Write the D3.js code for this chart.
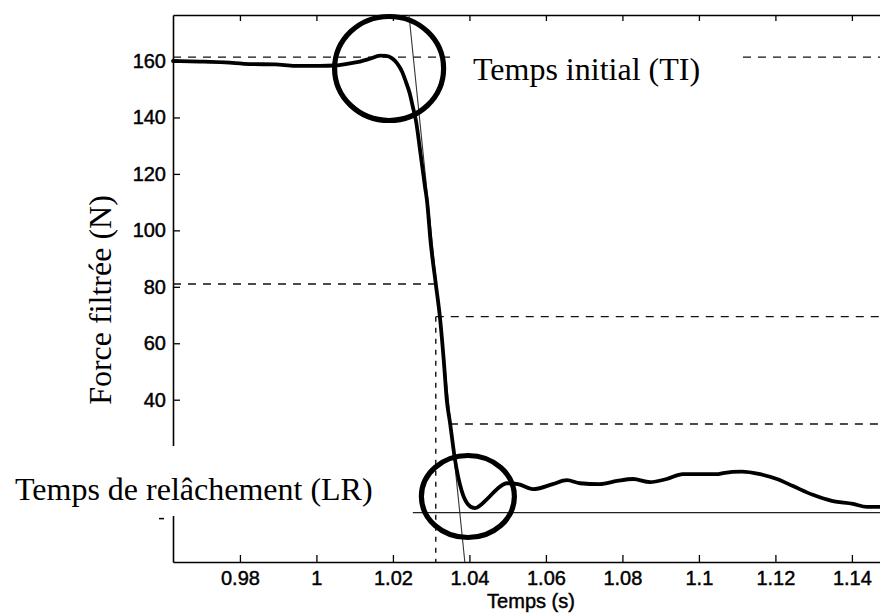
<!DOCTYPE html>
<html>
<head>
<meta charset="utf-8">
<script src="https://cdn.jsdelivr.net/npm/d3@7"></script>
<style>
  html, body { margin: 0; padding: 0; background: #fff; overflow: hidden; }
  svg { display: block; }
</style>
</head>
<body>
<svg id="chart" width="880" height="615"></svg>
<script>
// Filtered force signal around the release of the grip (time in s, force in N)
const time = [
  0.9625, 0.9695, 0.9761, 0.9826, 0.9892, 0.9944, 1.0009, 1.0048, 1.0088, 1.0114,
  1.0140, 1.0166, 1.0182, 1.0197, 1.0211, 1.0224, 1.0234, 1.0244, 1.0252, 1.0260,
  1.0271, 1.0284, 1.0289, 1.0299, 1.0312, 1.0323, 1.0333, 1.0341, 1.0349, 1.0362,
  1.0380, 1.0396, 1.0414, 1.0446, 1.0472, 1.0498, 1.0527, 1.0566, 1.0618, 1.0655,
  1.0689, 1.0741, 1.0786, 1.0828, 1.0872, 1.0916, 1.0958, 1.1047, 1.1063, 1.1112,
  1.1160, 1.1204, 1.1246, 1.1298, 1.1350, 1.1403, 1.1439, 1.1497
];
const force = [
  160.0, 159.8, 159.5, 158.9, 158.8, 158.3, 158.3, 158.4, 159.2, 159.8,
  160.8, 161.9, 161.8, 161.0, 159.2, 156.2, 152.6, 148.5, 143.8, 139.0,
  128.4, 115.3, 110.6, 95.3, 81.1, 69.1, 53.8, 39.6, 32.1, 19.0,
  7.6, 3.0, 1.6, 4.8, 8.3, 10.4, 10.1, 8.3, 10.1, 11.5,
  10.4, 10.1, 11.2, 11.9, 10.8, 11.9, 13.6, 13.6, 14.0, 14.5,
  13.6, 11.9, 9.4, 6.3, 4.1, 3.1, 2.0, 2.0
];

// Axis ticks (the 0 and 20 labels sit under the LR caption)
const xTicks = [0.98, 1.00, 1.02, 1.04, 1.06, 1.08, 1.10, 1.12, 1.14];
const yTicks = [0, 20, 40, 60, 80, 100, 120, 140, 160];
const yTickLabels = ["", "", "40", "60", "80", "100", "120", "140", "160"];

// Reference levels and times used to read TI and LR
const levelTI = [161.4];          // initial level, full width
const levelHalf = [81.0];         // level up to the crossing time
const levelsAfter = [69.4, 31.4]; // levels drawn from the curve onwards
const levelsAfterStart = [1.0312, 1.0349];
const levelZero = [0];
const levelZeroStart = [1.0252];
const crossTime = [1.0312];
const tangentTime = [1.0242, 1.0388];
const tangentForce = [176.3, -17.5];

// Circled events: centre in data units
const markTime = [1.0190, 1.0396];
const markForce = [157.35, 5.7];
const markLabels = ["Temps initial (TI)", "Temps de relâchement (LR)"];

const svg = d3.select("#chart");
const plotLeft = 173, plotRight = 889, plotTop = 15, plotBottom = 562;

const x = d3.scaleLinear().domain([0.9625, 1.1497]).range([plotLeft, plotRight]);
const y = d3.scaleLinear().domain([-17.5, 176.3]).range([plotBottom, plotTop]);

const SERIF = "'Liberation Serif', 'Times New Roman', serif";
const SANS = "'Liberation Sans', Arial, Helvetica, sans-serif";

// --- axes (MATLAB-like box with inward ticks) ---
const gx = svg.append("g").attr("transform", `translate(0,${plotBottom})`)
  .call(d3.axisBottom(x).tickValues(xTicks).tickSizeInner(-7).tickSizeOuter(0).tickPadding(8.8)
    .tickFormat(d => String(+d.toFixed(2))));
const gTop = svg.append("g").attr("transform", `translate(0,${plotTop})`)
  .call(d3.axisTop(x).tickValues(xTicks).tickSizeInner(-6).tickSizeOuter(0).tickFormat(""));
const gy = svg.append("g").attr("transform", `translate(${plotLeft},0)`)
  .call(d3.axisLeft(y).tickValues(yTicks).tickSizeInner(-7).tickSizeOuter(0).tickPadding(7)
    .tickFormat((d, i) => yTickLabels[i]));

[gx, gTop, gy].forEach(g => {
  g.select(".domain").attr("stroke", "#000").attr("stroke-width", 1.6);
  g.selectAll(".tick line").attr("stroke", "#000").attr("stroke-width", 1.3);
  g.selectAll(".tick text")
    .attr("font-family", SANS).attr("font-size", 20).attr("fill", "#000")
    .attr("stroke", "#000").attr("stroke-width", 0.45);
});

// --- reference lines ---
const refs = svg.append("g").attr("fill", "none");

refs.selectAll(".lvl-ti").data(levelTI).enter().append("line")
  .attr("x1", x(x.domain()[0])).attr("x2", x(x.domain()[1]))
  .attr("y1", d => y(d)).attr("y2", d => y(d))
  .attr("stroke", "#111").attr("stroke-width", 1.3).attr("stroke-dasharray", "8,7");

refs.selectAll(".lvl-half").data(levelHalf).enter().append("line")
  .attr("x1", x(x.domain()[0])).attr("x2", x(crossTime[0]))
  .attr("y1", d => y(d)).attr("y2", d => y(d))
  .attr("stroke", "#111").attr("stroke-width", 1.3).attr("stroke-dasharray", "8,7");

refs.selectAll(".lvl-after").data(levelsAfter).enter().append("line")
  .attr("x1", (d, i) => x(levelsAfterStart[i])).attr("x2", x(x.domain()[1]))
  .attr("y1", d => y(d)).attr("y2", d => y(d))
  .attr("stroke", "#111").attr("stroke-width", 1.3).attr("stroke-dasharray", "8,7");

refs.selectAll(".cross").data(crossTime).enter().append("line")
  .attr("x1", d => x(d)).attr("x2", d => x(d))
  .attr("y1", y(levelsAfter[0])).attr("y2", plotBottom)
  .attr("stroke", "#111").attr("stroke-width", 1.4).attr("stroke-dasharray", "5,6");

refs.selectAll(".zero").data(levelZero).enter().append("line")
  .attr("x1", x(levelZeroStart[0])).attr("x2", x(x.domain()[1]))
  .attr("y1", d => y(d)).attr("y2", d => y(d))
  .attr("stroke", "#222").attr("stroke-width", 1.4);

refs.append("line")
  .attr("x1", x(tangentTime[0])).attr("y1", y(tangentForce[0]))
  .attr("x2", x(tangentTime[1])).attr("y2", y(tangentForce[1]))
  .attr("stroke", "#333").attr("stroke-width", 1.1);

// --- force curve ---
const pts = time.map((t, i) => [t, force[i]]);
svg.append("path")
  .datum(pts)
  .attr("fill", "none")
  .attr("stroke", "#000")
  .attr("stroke-width", 3.8)
  .attr("stroke-linejoin", "round")
  .attr("stroke-linecap", "round")
  .attr("d", d3.line().x(d => x(d[0])).y(d => y(d[1])).curve(d3.curveMonotoneX));

// --- annotation labels on white backing ---
const notes = [
  { text: markLabels[0], x: 473, y: 80, pad: { l: 23, r: 41, t: 26, b: 20 } },
  { text: markLabels[1], x: 15, y: 500, pad: { l: 15, r: 35, t: 32, b: 16 } }
];
notes.forEach(n => {
  const g = svg.append("g");
  const bg = g.append("rect").attr("fill", "#fff");
  const tx = g.append("text")
    .attr("x", n.x).attr("y", n.y)
    .attr("font-family", SERIF).attr("font-size", 32).attr("fill", "#000")
    .text(n.text);
  const bb = tx.node().getBBox();
  bg.attr("x", bb.x - n.pad.l).attr("width", bb.width + n.pad.l + n.pad.r)
    .attr("y", n.y - n.pad.t - 22).attr("height", n.pad.t + 22 + n.pad.b);
});

// small remnant of the zero label just below the LR caption
svg.append("line")
  .attr("x1", plotLeft - 14).attr("x2", plotLeft - 9)
  .attr("y1", y(0) + 6).attr("y2", y(0) + 6)
  .attr("stroke", "#000").attr("stroke-width", 1.5);

// --- circled events ---
const rx = [54.5, 46.5], ry = [52, 41];
svg.selectAll(".mark").data(markTime).enter().append("ellipse")
  .attr("cx", d => x(d)).attr("cy", (d, i) => y(markForce[i]))
  .attr("rx", (d, i) => rx[i]).attr("ry", (d, i) => ry[i])
  .attr("fill", "none").attr("stroke", "#000").attr("stroke-width", 5.2);

// --- axis titles ---
svg.append("text")
  .attr("transform", "translate(111,300) rotate(-90)")
  .attr("text-anchor", "middle")
  .attr("font-family", SERIF).attr("font-size", 32).attr("fill", "#000")
  .text("Force filtrée (N)");

svg.append("text")
  .attr("x", 531).attr("y", 608)
  .attr("text-anchor", "middle")
  .attr("font-family", SANS).attr("font-size", 20).attr("fill", "#000")
  .attr("stroke", "#000").attr("stroke-width", 0.45)
  .text("Temps (s)");
</script>
</body>
</html>
